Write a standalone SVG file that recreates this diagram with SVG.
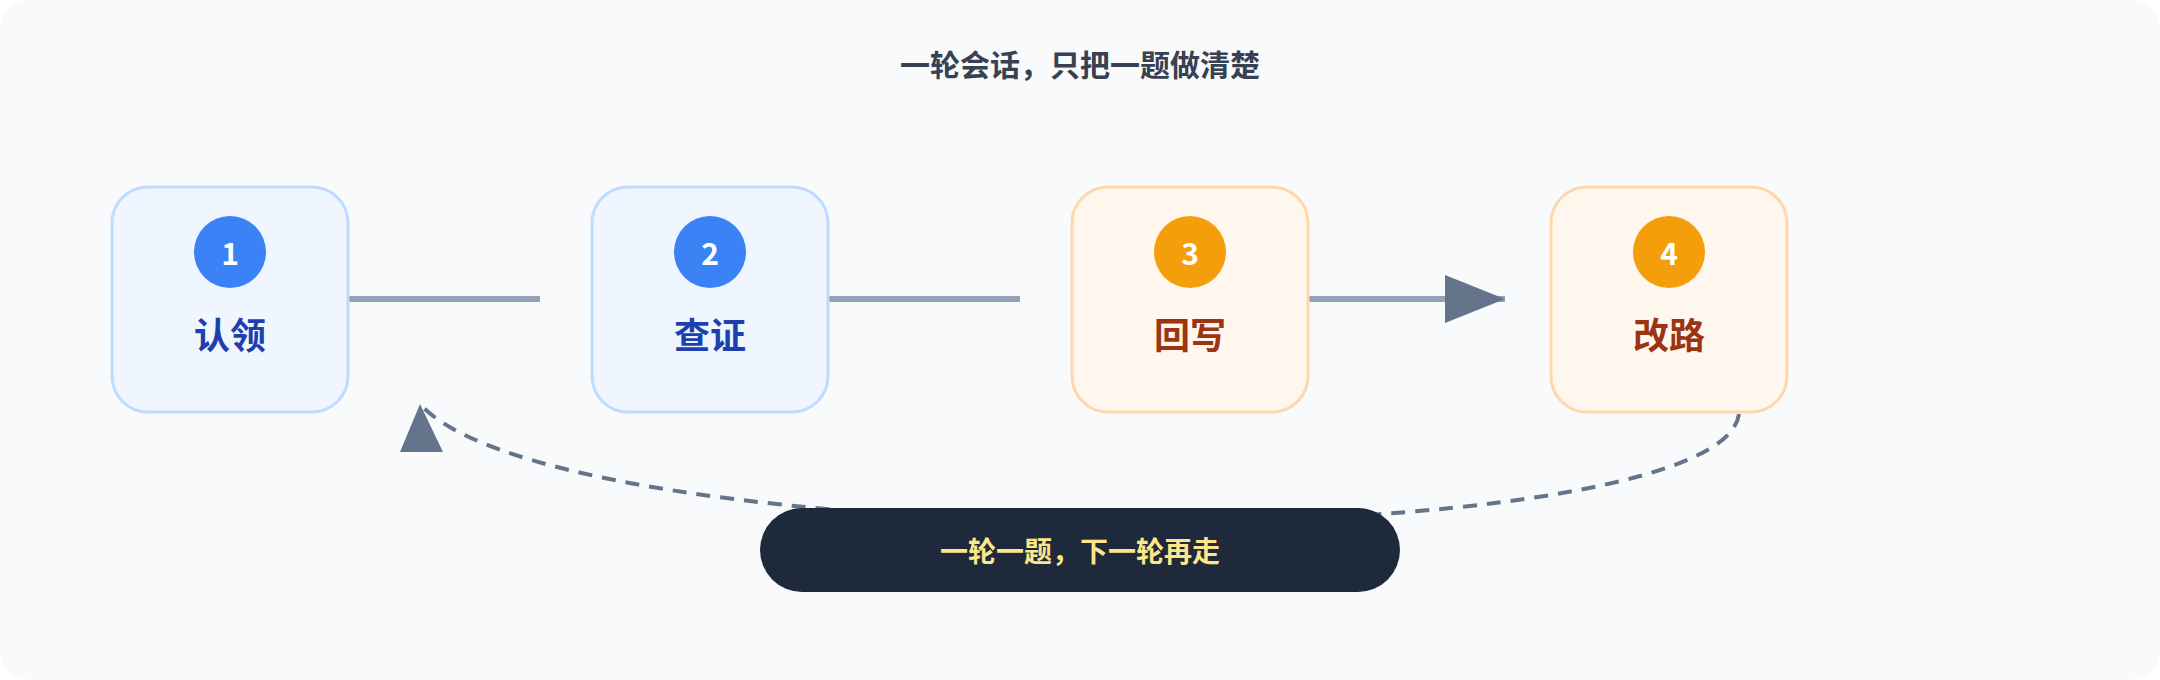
<svg xmlns="http://www.w3.org/2000/svg" width="2160" height="680" viewBox="0 0 2160 680">
<style>
text{font-family:"Noto Sans CJK SC","Noto Sans",sans-serif;font-weight:700;text-anchor:middle;dominant-baseline:central}
.b rect{fill:#eff6ff;stroke:#bfdbfe;stroke-width:3}
.b circle{fill:#3b82f6}
.b .l{fill:#1e40af}
.o rect{fill:#fff7ed;stroke:#fed7aa;stroke-width:3}
.o circle{fill:#f59e0b}
.o .l{fill:#9a3412}
.n{fill:#fff;font-size:30px}
.l{font-size:36px}
.c{stroke:#94a3b8;stroke-width:6;fill:none}
</style>
<defs>
<marker id="ah" markerWidth="14" markerHeight="12" refX="14" refY="6" orient="auto" markerUnits="userSpaceOnUse" viewBox="0 0 14 12"><path d="M0,0L14,6L0,12Z" fill="#64748b"/></marker>
<marker id="ah2" markerWidth="60" markerHeight="48" refX="60" refY="24" orient="auto" markerUnits="userSpaceOnUse"><path d="M0,0L60,24L0,48Z" fill="#64748b"/></marker>
</defs>
<rect width="2160" height="680" rx="28" fill="#f8fafc"/>
<text x="1080" y="63" font-size="30" fill="#374151">一轮会话，只把一题做清楚</text>
<g id="connectors">
<line class="c" x1="348" y1="299" x2="540" y2="299"/>
<line class="c" x1="828" y1="299" x2="1020" y2="299"/>
<line class="c" x1="1308" y1="299" x2="1505" y2="299" marker-end="url(#ah2)"/>
<path d="M1739,414 C1720,560 560,560 420,404" fill="none" stroke="#64748b" stroke-width="4" stroke-dasharray="14 10"/>
<path d="M448,452 L420,404" fill="none" stroke="none"/>
<path d="M420,404 L443,452 L400,452 Z" fill="#64748b"/>
</g>
<g id="n1" class="b"><rect x="112" y="187" width="236" height="225" rx="36"/><circle cx="230" cy="252" r="36"/><text class="n" x="230" y="252">1</text><text class="l" x="230" y="333">认领</text></g>
<g id="n2" class="b"><rect x="592" y="187" width="236" height="225" rx="36"/><circle cx="710" cy="252" r="36"/><text class="n" x="710" y="252">2</text><text class="l" x="710" y="333">查证</text></g>
<g id="n3" class="o"><rect x="1072" y="187" width="236" height="225" rx="36"/><circle cx="1190" cy="252" r="36"/><text class="n" x="1190" y="252">3</text><text class="l" x="1190" y="333">回写</text></g>
<g id="n4" class="o"><rect x="1551" y="187" width="236" height="225" rx="36"/><circle cx="1669" cy="252" r="36"/><text class="n" x="1669" y="252">4</text><text class="l" x="1669" y="333">改路</text></g>
<g id="pill"><rect x="760" y="508" width="640" height="84" rx="42" fill="#1e293b"/><text x="1080" y="550" font-size="28" fill="#fde68a">一轮一题，下一轮再走</text></g>
</svg>
